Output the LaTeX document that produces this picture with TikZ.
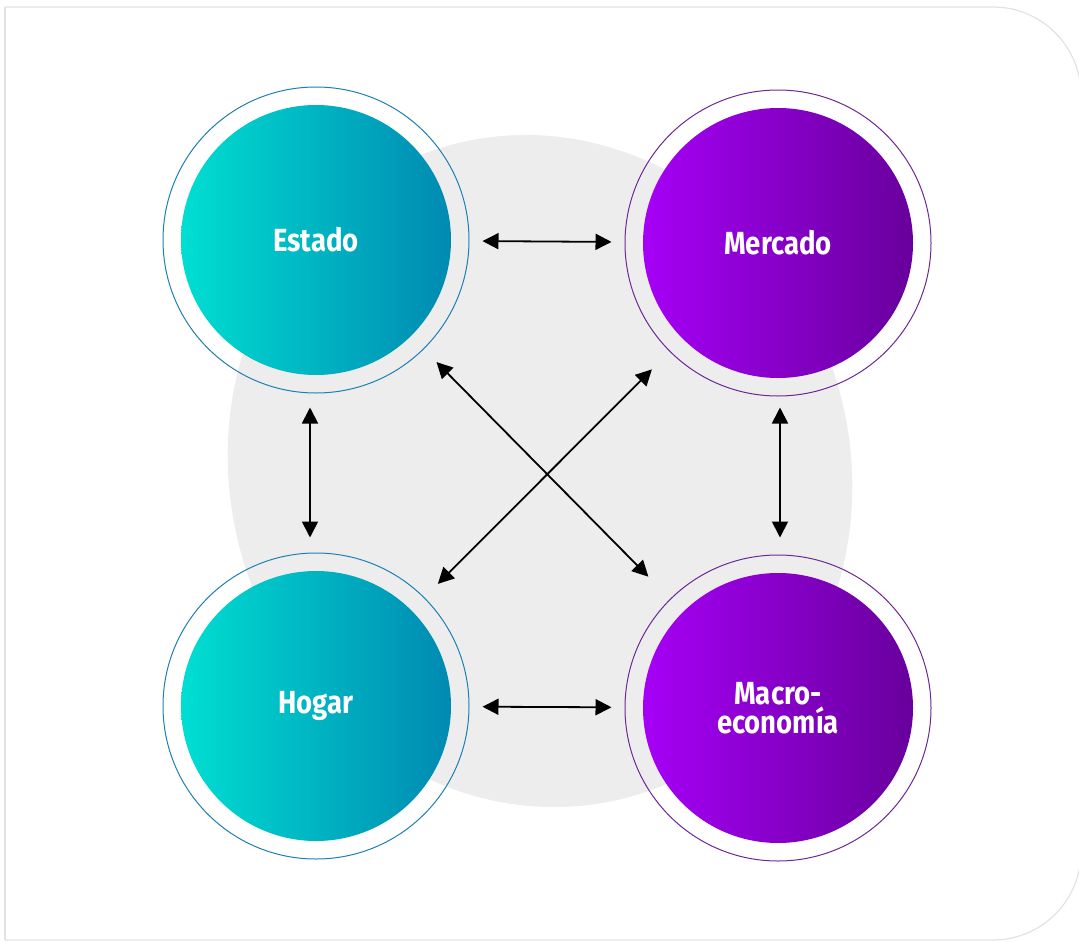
\documentclass[tikz,border=0pt]{standalone}
\usepackage{fontspec}
\usetikzlibrary{arrows.meta}
\newfontfamily\lblfont[FakeStretch=0.86]{Fira Sans}

\definecolor{tealL}{RGB}{0,228,212}
\definecolor{tealR}{RGB}{0,132,176}
\definecolor{tealRing}{RGB}{30,128,178}
\definecolor{violL}{RGB}{170,0,252}
\definecolor{violR}{RGB}{100,0,150}
\definecolor{violRing}{RGB}{110,40,150}
\definecolor{blobgray}{RGB}{237,237,237}
\definecolor{framegray}{RGB}{226,226,226}

\tikzset{
  hub/.style={circle, inner sep=0pt, minimum size=306pt, line width=1pt,
    text=white, align=center,
    font=\lblfont\bfseries\fontsize{32}{29}\selectfont},
  tealhub/.style={hub, draw=tealRing,
    path picture={\shade[left color=tealL, right color=tealR]
      (path picture bounding box.center) circle[radius=135pt];}},
  violhub/.style={hub, draw=violRing,
    path picture={\shade[left color=violL, right color=violR]
      (path picture bounding box.center) circle[radius=135pt];}},
  link/.style={line width=1.8pt, black,
    {Triangle[length=16pt,width=16pt]}-{Triangle[length=16pt,width=16pt]}},
  framestyle/.style={draw=framegray, line width=1.2pt}
}

\begin{document}
\begin{tikzpicture}[x=1pt, y=-1pt]
  \useasboundingbox (0,0) rectangle (1079,942);

  % outer frame: square on the left, rounded on the right
  \draw[framestyle] (5,940) -- (5,7);
  \draw[framestyle, rounded corners=88pt] (5,7) -- (1081,7) -- (1081,940) -- (5,940);

  % soft grey backdrop, a slightly tilted oval
  \fill[blobgray, rotate around={16:(540,471)}]
    (540,471) ellipse [x radius=310pt, y radius=338pt];

  % the four actors
  \node[tealhub] (estado) at (316,240) {Estado};
  \node[violhub] (mercado) at (778,243) {Mercado};
  \node[tealhub] (hogar) at (316,706) {Hogar};
  \node[violhub] (macro) at (778,708) {Macro-\\economía};

  % two-way relations
  \draw[link, shorten <=13pt, shorten >=13pt] (estado) -- (mercado);
  \draw[link, shorten <=13pt, shorten >=13pt] (hogar) -- (macro);
  \draw[link, shorten <=14pt, shorten >=15pt]
    ([xshift=-6pt]estado.south) -- ([xshift=-6pt]hogar.north);
  \draw[link, shorten <=11pt, shorten >=17pt]
    ([xshift=2pt]mercado.south) -- ([xshift=2pt]macro.north);
  \draw[link, shorten <=18pt, shorten >=31pt] (estado) -- (macro);
  \draw[link, shorten <=25pt, shorten >=19pt] (mercado) -- (hogar);
\end{tikzpicture}
\end{document}
